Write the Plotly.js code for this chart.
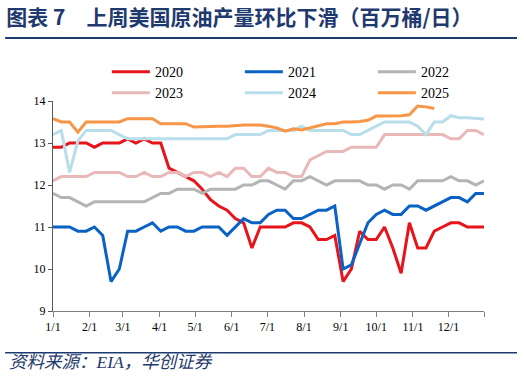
<!DOCTYPE html>
<html>
<head>
<meta charset="utf-8">
<script src="https://cdn.plot.ly/plotly-3.0.1.min.js"></script>
<style>html,body{margin:0;padding:0;background:#fff;}#chart{width:524px;height:383px;}</style>
</head>
<body>
<div id="chart"></div>
<script>
// Weekly US crude oil production (million barrels/day), week index 0..52 from 1/1
const seriesNames = ['2020', '2021', '2022', '2023', '2024', '2025'];
const y2020 = [12.9,12.9,13.0,13.0,13.0,12.9,13.0,13.0,13.0,13.1,13.0,13.1,13.0,13.0,12.4,12.3,12.2,12.1,11.9,11.65,11.5,11.4,11.2,11.1,10.5,11.0,11.0,11.0,11.0,11.1,11.1,11.0,10.7,10.7,10.8,9.7,10.0,10.9,10.7,10.7,11.0,10.5,9.9,11.1,10.5,10.5,10.9,11.0,11.1,11.1,11.0,11.0,11.0];
const y2021 = [11.0,11.0,11.0,10.9,10.9,11.0,10.8,9.7,10.0,10.9,10.9,11.0,11.1,10.9,11.0,11.0,10.9,10.9,11.0,11.0,11.0,10.8,11.0,11.2,11.1,11.1,11.3,11.4,11.4,11.2,11.2,11.3,11.4,11.4,11.5,10.0,10.1,10.6,11.1,11.3,11.4,11.3,11.3,11.5,11.5,11.4,11.5,11.6,11.7,11.7,11.6,11.8,11.8];
const y2022 = [11.8,11.7,11.7,11.6,11.5,11.6,11.6,11.6,11.6,11.6,11.6,11.6,11.7,11.8,11.8,11.9,11.9,11.9,11.8,11.9,11.9,11.9,11.9,12.0,12.0,12.1,12.1,12.0,11.9,12.1,12.1,12.2,12.1,12.0,12.1,12.1,12.1,12.1,12.0,12.0,11.9,12.0,12.0,11.9,12.1,12.1,12.1,12.1,12.2,12.1,12.1,12.0,12.1];
const y2023 = [12.1,12.2,12.2,12.2,12.2,12.3,12.3,12.3,12.3,12.2,12.2,12.3,12.2,12.2,12.3,12.3,12.2,12.3,12.3,12.2,12.3,12.2,12.4,12.4,12.2,12.2,12.4,12.3,12.3,12.2,12.2,12.6,12.7,12.8,12.8,12.8,12.9,12.9,12.9,12.9,13.2,13.2,13.2,13.2,13.2,13.2,13.2,13.2,13.1,13.1,13.3,13.3,13.2];
const y2024 = [13.2,13.3,12.3,13.05,13.3,13.3,13.3,13.3,13.2,13.1,13.1,13.1,13.1,13.1,13.1,13.1,13.1,13.1,13.1,13.1,13.1,13.1,13.2,13.2,13.2,13.2,13.3,13.3,13.3,13.3,13.4,13.3,13.3,13.3,13.3,13.3,13.2,13.2,13.3,13.4,13.5,13.5,13.5,13.5,13.4,13.2,13.5,13.5,13.65,13.6,13.6,13.58,13.57];
const y2025 = [13.58,13.5,13.5,13.26,13.5,13.5,13.5,13.5,13.5,13.58,13.58,13.58,13.58,13.46,13.46,13.46,13.46,13.38,13.39,13.39,13.4,13.4,13.42,13.43,13.43,13.43,13.4,13.36,13.28,13.34,13.31,13.36,13.42,13.46,13.46,13.5,13.5,13.51,13.54,13.64,13.64,13.64,13.65,13.67,13.88,13.86,13.82];
// Month-start day-of-year, converted to week positions for ticks
const monthStartDays = [0,31,59,90,120,151,181,212,243,273,304,334,364];
const tickLabels = ['1/1','2/1','3/1','4/1','5/1','6/1','7/1','8/1','9/1','10/1','11/1','12/1',''];
const colors = ['#E8141C','#0A63C4','#B4B4B4','#E8B9B8','#B8DEE9','#F79646'];

const allY = [y2020,y2021,y2022,y2023,y2024,y2025];
const traces = allY.map((ys, i) => ({
  type: 'scatter', mode: 'lines',
  name: seriesNames[i],
  x: ys.map((_, k) => k),
  y: ys,
  line: {color: colors[i], width: 3},
  hoverinfo: 'x+y'
}));

const navy = '#1F3A6E';
const layout = {
  width: 524, height: 383,
  margin: {l: 53, r: 40, t: 101, b: 72, autoexpand: false},
  paper_bgcolor: '#fff', plot_bgcolor: '#fff',
  showlegend: true,
  title: {
    text: '图表 7　上周美国原油产量环比下滑（百万桶/日）',
    x: 0.012, xref: 'container', xanchor: 'left',
    y: 1 - 18/383, yref: 'container', yanchor: 'middle',
    font: {family: 'Noto Sans CJK SC', size: 21, weight: 'bold', color: navy}
  },
  xaxis: {
    range: [0, 52], tickmode: 'array',
    tickvals: monthStartDays.map(d => d / 7),
    ticktext: tickLabels,
    ticks: 'outside', ticklen: 5, tickcolor: '#808080',
    showline: true, linecolor: '#808080', linewidth: 1,
    showgrid: false, zeroline: false,
    tickfont: {family: 'Liberation Serif', size: 12, color: '#000'}
  },
  yaxis: {
    range: [9, 14], dtick: 1, tick0: 9,
    ticks: 'outside', ticklen: 4, tickcolor: '#595959',
    showline: true, linecolor: '#595959', linewidth: 1,
    showgrid: false, zeroline: false,
    tickfont: {family: 'Liberation Serif', size: 12, color: '#000'}
  },
  legend: {
    orientation: 'h', x: 0.125, xanchor: 'left', y: 1.214, yanchor: 'top',
    entrywidth: 80, entrywidthmode: 'pixels', itemwidth: 38,
    font: {family: 'Liberation Serif', size: 14, color: '#000'},
    bgcolor: 'rgba(0,0,0,0)'
  },
  shapes: [
    {type: 'line', xref: 'paper', yref: 'paper', x0: -0.111, x1: 1.0766, y0: 1.3, y1: 1.3, line: {color: navy, width: 2}},
    {type: 'line', xref: 'paper', yref: 'paper', x0: -0.111, x1: 1.0766, y0: -0.1986, y1: -0.1986, line: {color: navy, width: 1.5}}
  ],
  annotations: [
    {text: '<i>资料来源：EIA，华创证券</i>', xref: 'paper', yref: 'paper', x: -0.107, y: -0.243,
     xanchor: 'left', yanchor: 'middle', showarrow: false,
     font: {family: 'Liberation Serif, Noto Sans CJK SC', size: 17.5, color: navy}}
  ]
};

Plotly.newPlot('chart', traces, layout, {displayModeBar: false, staticPlot: true});
</script>
</body>
</html>
